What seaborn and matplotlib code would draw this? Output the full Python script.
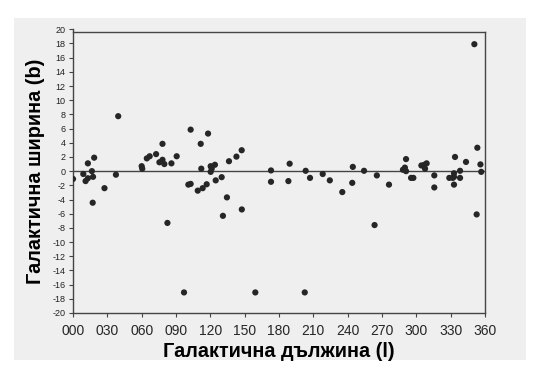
import matplotlib
matplotlib.use("Agg")
import matplotlib.pyplot as plt
from matplotlib.patches import Rectangle
import seaborn as sns
import pandas as pd

# Galactic longitude (l) and latitude (b) of each object
longitude = [0, 9, 11, 13, 13, 16.5, 17.5, 18.5, 17.2, 27.5, 37.5, 39.5,
             60, 60.5, 64.5, 67, 72.6, 78.2, 75.5, 78.2, 79.8, 86, 90.6, 82.5,
             97, 100.8, 102.8, 102.8, 109, 111.6, 112.1, 113.3, 116.8, 118,
             120.3, 121.2, 120.3, 124, 124.7, 129.9, 131, 134.5, 136.3, 142.8,
             147.4, 147.5, 159.3, 173, 173, 188.2, 189.3, 202.5, 203.3, 207.1,
             218.2, 224.4, 235.3, 244.5, 244, 254.3, 265.5, 263.5, 276.1,
             288.3, 290, 291, 291, 295.4, 297.4, 304.4, 307, 309, 307.6, 315.7,
             315.7, 333.8, 332.9, 332.9, 328.8, 331.8, 332.9, 338.2, 338.2,
             343.4, 353.3, 356, 356.7, 350.7, 352.7]
latitude = [-1.1, -0.4, -1.4, -1.0, 1.1, 0.0, -0.8, 1.9, -4.45, -2.4, -0.5, 7.75,
            0.7, 0.35, 1.8, 2.1, 2.4, 3.85, 1.25, 1.6, 1.0, 1.1, 2.1, -7.3,
            -17.1, -1.9, -1.8, 5.85, -2.75, 3.85, 0.35, -2.4, -1.85, 5.3,
            0.7, 0.35, -0.1, 0.9, -1.3, -0.85, -6.3, -3.7, 1.4, 2.05,
            2.95, -5.4, -17.1, 0.1, -1.5, -1.4, 1.05, -17.1, 0.05, -0.95,
            -0.4, -1.3, -2.95, 0.6, -1.65, 0.05, -0.6, -7.6, -1.9,
            0.2, 0.5, 0.0, 1.7, -0.95, -0.95, 0.8, 0.9, 1.1, 0.35, -0.6,
            -2.3, 2.0, -0.3, -0.8, -0.95, -0.95, -1.9, 0.05, -0.95,
            1.3, 3.3, 0.95, -0.1, 17.9, -6.1]

x_ticks = list(range(0, 361, 30))
x_tick_labels = [f"{v:03d}" for v in x_ticks]
y_ticks = list(range(-20, 21, 2))
y_tick_labels = [str(v) for v in y_ticks]

df = pd.DataFrame({"l": longitude, "b": latitude})

sns.set_style("white")
plt.rcParams["font.family"] = ["Liberation Sans", "DejaVu Sans"]

W, H = 540, 380
fig = plt.figure(figsize=(W / 100, H / 100), dpi=100, facecolor="white")
# gray panel behind the chart
fig.patches.append(Rectangle((14 / W, 1 - 360 / H), 512 / W, 342 / H,
                             transform=fig.transFigure, facecolor="#efefef",
                             edgecolor="none", zorder=-10))

ax = fig.add_axes([73 / W, 1 - 313 / H, 412 / W, 283.7 / H])
ax.set_zorder(5)
ax.set_facecolor("#efefef")

ax.axhline(0, color="#444444", linewidth=1.0, zorder=1)
sns.scatterplot(data=df, x="l", y="b", ax=ax, s=20, color="#262626",
                edgecolor="none", linewidth=0, zorder=3)

ax.set_xlim(0, 360)
ax.set_ylim(-20, 20)
ax.set_xticks(x_ticks)
ax.set_xticklabels(x_tick_labels, fontsize=8.5, color="#222222")
ax.set_yticks(y_ticks)
ax.set_yticklabels(y_tick_labels, fontsize=6.5, color="#222222")
ax.tick_params(axis="both", direction="out", length=3, width=0.8,
               color="#444444", bottom=True, left=True)
ax.tick_params(axis="x", pad=5)
ax.tick_params(axis="y", pad=2.5)

for side in ["left", "bottom", "right", "top"]:
    ax.spines[side].set_color("#444444")
    ax.spines[side].set_linewidth(1.0)
ax.spines["top"].set_position(("data", 19.6))
ax.spines["right"].set_bounds(-20, 19.6)

ax.set_xlabel("Галактична дължина (l)", fontsize=14.3, fontweight="bold",
              color="black", labelpad=3)
ax.set_ylabel("Галактична ширина (b)", fontsize=14.3, fontweight="bold",
              color="black", labelpad=5)

fig.savefig("out.png", dpi=100, facecolor="white")
